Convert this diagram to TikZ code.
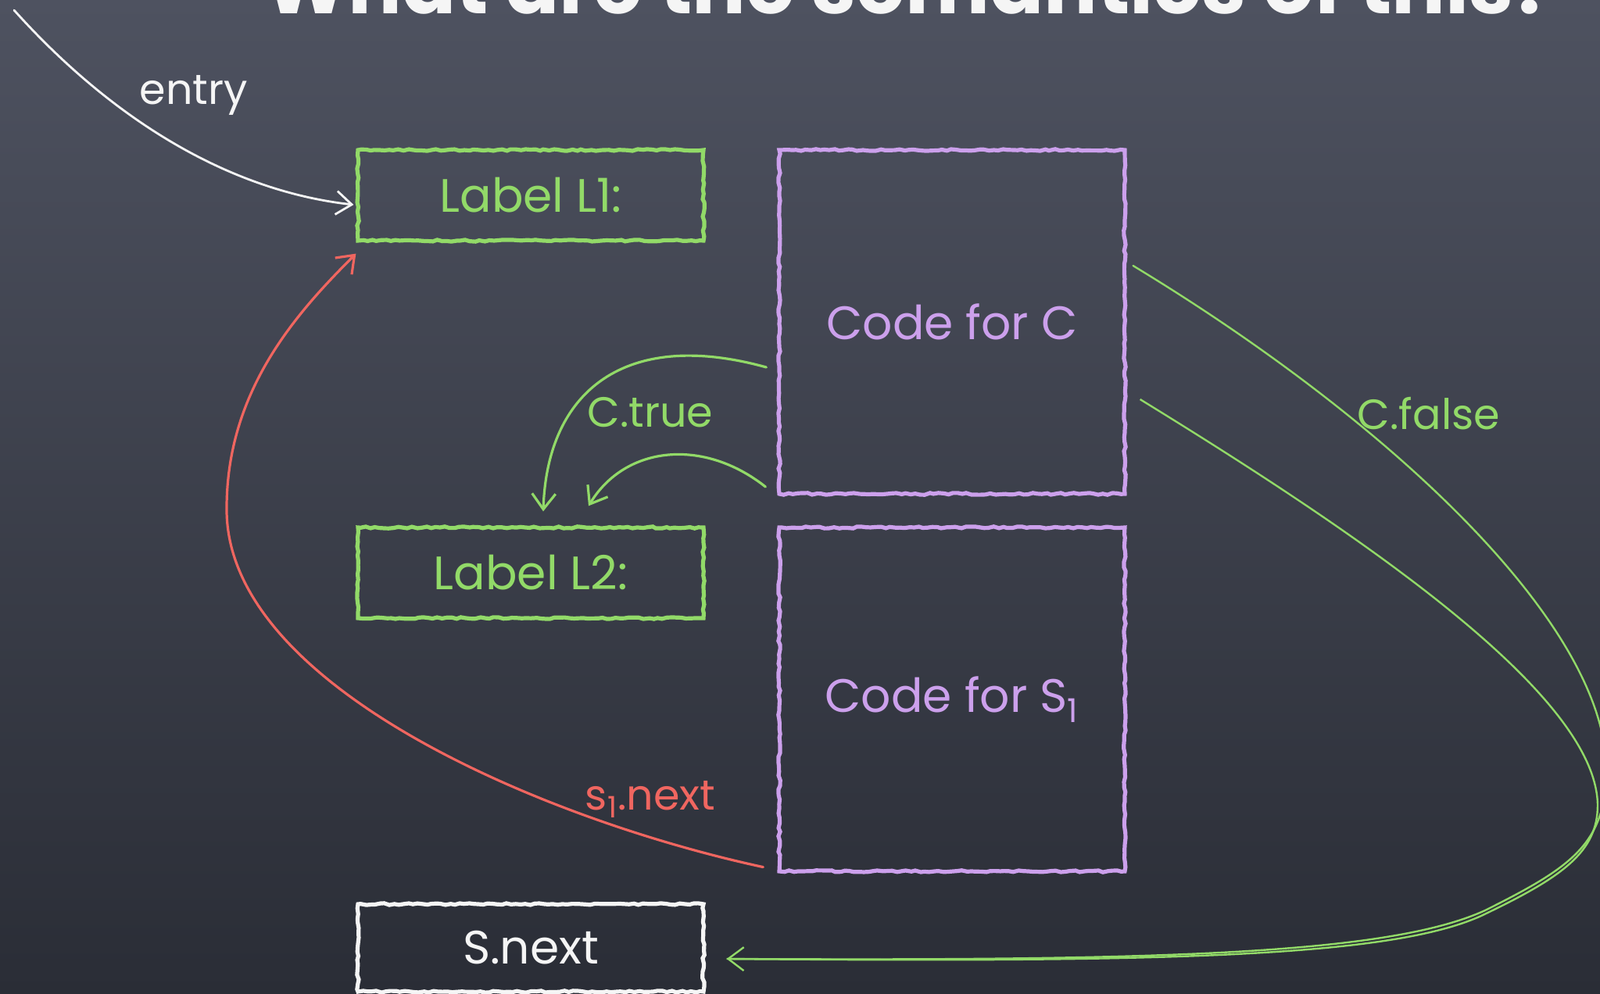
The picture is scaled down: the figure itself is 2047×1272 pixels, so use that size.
\documentclass[tikz,border=0pt]{standalone}
\usepackage{fontspec}
\setmainfont{Poppins}
\usetikzlibrary{arrows.meta,decorations.pathmorphing}
\definecolor{bgtop}{RGB}{78,82,96}
\definecolor{bgbot}{RGB}{42,45,54}
\definecolor{chalkgreen}{RGB}{146,218,104}
\definecolor{chalkpurple}{RGB}{204,160,236}
\definecolor{chalkred}{RGB}{240,102,96}
\definecolor{chalkwhite}{RGB}{245,245,245}
\tikzset{
  box/.style={draw, line width=2.6pt, minimum width=221pt, inner sep=0pt,
    decorate, decoration={random steps, segment length=3pt, amplitude=0.6pt},
    font=\fontsize{30}{36}\selectfont},
  smallbox/.style={box, minimum height=58pt},
  bigbox/.style={box, minimum height=220pt},
  conn/.style={line width=1.6pt, line cap=round, -{Straight Barb[length=10pt,width=15pt]}},
  thinconn/.style={line width=1.2pt, line cap=round, -{Straight Barb[length=10pt,width=15pt]}},
  lbl/.style={font=\fontsize{27}{32}\selectfont},
}
\begin{document}
\begin{tikzpicture}[x=0.5pt,y=-0.5pt]
\clip (0,0) rectangle (2047,1272);
\shade[top color=bgtop, bottom color=bgbot] (0,0) rectangle (2047,1272);

% title (cut by the top edge, as in the reference)
\node[anchor=base, text=chalkwhite, font=\fontsize{51}{60}\selectfont\bfseries] (title) at (1165,18) {What are the semantics of this?};

% boxes
\node[smallbox, draw=chalkgreen, text=chalkgreen] (L1) at (679,250) {Label L1:};
\node[smallbox, draw=chalkgreen, text=chalkgreen] (L2) at (679,733) {Label L2:};
\node[box, minimum height=56pt, draw=chalkwhite, text=chalkwhite] (Snext) at (679,1213) {S.next};
\node[bigbox, draw=chalkpurple, text=chalkpurple] (CodeC) at (1218,412) {Code for C};
\node[bigbox, draw=chalkpurple, text=chalkpurple] (CodeS) at (1218,895) {Code for S\textsubscript{1}};

% entry
\coordinate (entrystart) at (18,13);
\draw[conn, chalkwhite, line width=1.4pt] (entrystart) .. controls (150,160) and (300,245) .. ([shift={(-3,12)}]L1.west);
\node[lbl, text=chalkwhite] (entrylbl) at (248,122) {entry};

% C.true
\draw[conn, chalkgreen] ([shift={(-14,58)}]CodeC.west) .. controls (800,420) and (700,500) .. ([shift={(16,-18)}]L2.north);
\draw[conn, chalkgreen] ([shift={(-15,211)}]CodeC.west) .. controls (900,560) and (800,570) .. ([shift={(74,-25)}]L2.north);
\node[lbl, text=chalkgreen] (truelbl) at (832,528) {C.true};

% C.false
\draw[thinconn, chalkgreen] ([shift={(8,-72)}]CodeC.east)
  .. controls (1780,540) and (2055,800) .. (2055,985)
  .. controls (2055,1080) and (2010,1110) .. (1900,1165)
  .. controls (1780,1220) and (1500,1230) .. ([shift={(27,14)}]Snext.east);
\draw[line width=1.2pt, chalkgreen] ([shift={(17,99)}]CodeC.east)
  .. controls (1750,690) and (2042,890) .. (2044,1030)
  .. controls (2044,1090) and (2000,1122) .. (1895,1172)
  .. controls (1780,1224) and (1500,1232) .. ([shift={(27,14)}]Snext.east);
\node[lbl, text=chalkgreen] (falselbl) at (1828,529) {C.false};

% s1.next
\draw[conn, chalkred] ([shift={(-18,-8)}]CodeS.south west)
  .. controls (700,1050) and (291,880) .. (290,653)
  .. controls (289,500) and (380,400) .. ([shift={(0,14)}]L1.south west);
\node[lbl, text=chalkred] (s1lbl) at (832,1023) {s\textsubscript{1}.next};
\end{tikzpicture}
\end{document}
